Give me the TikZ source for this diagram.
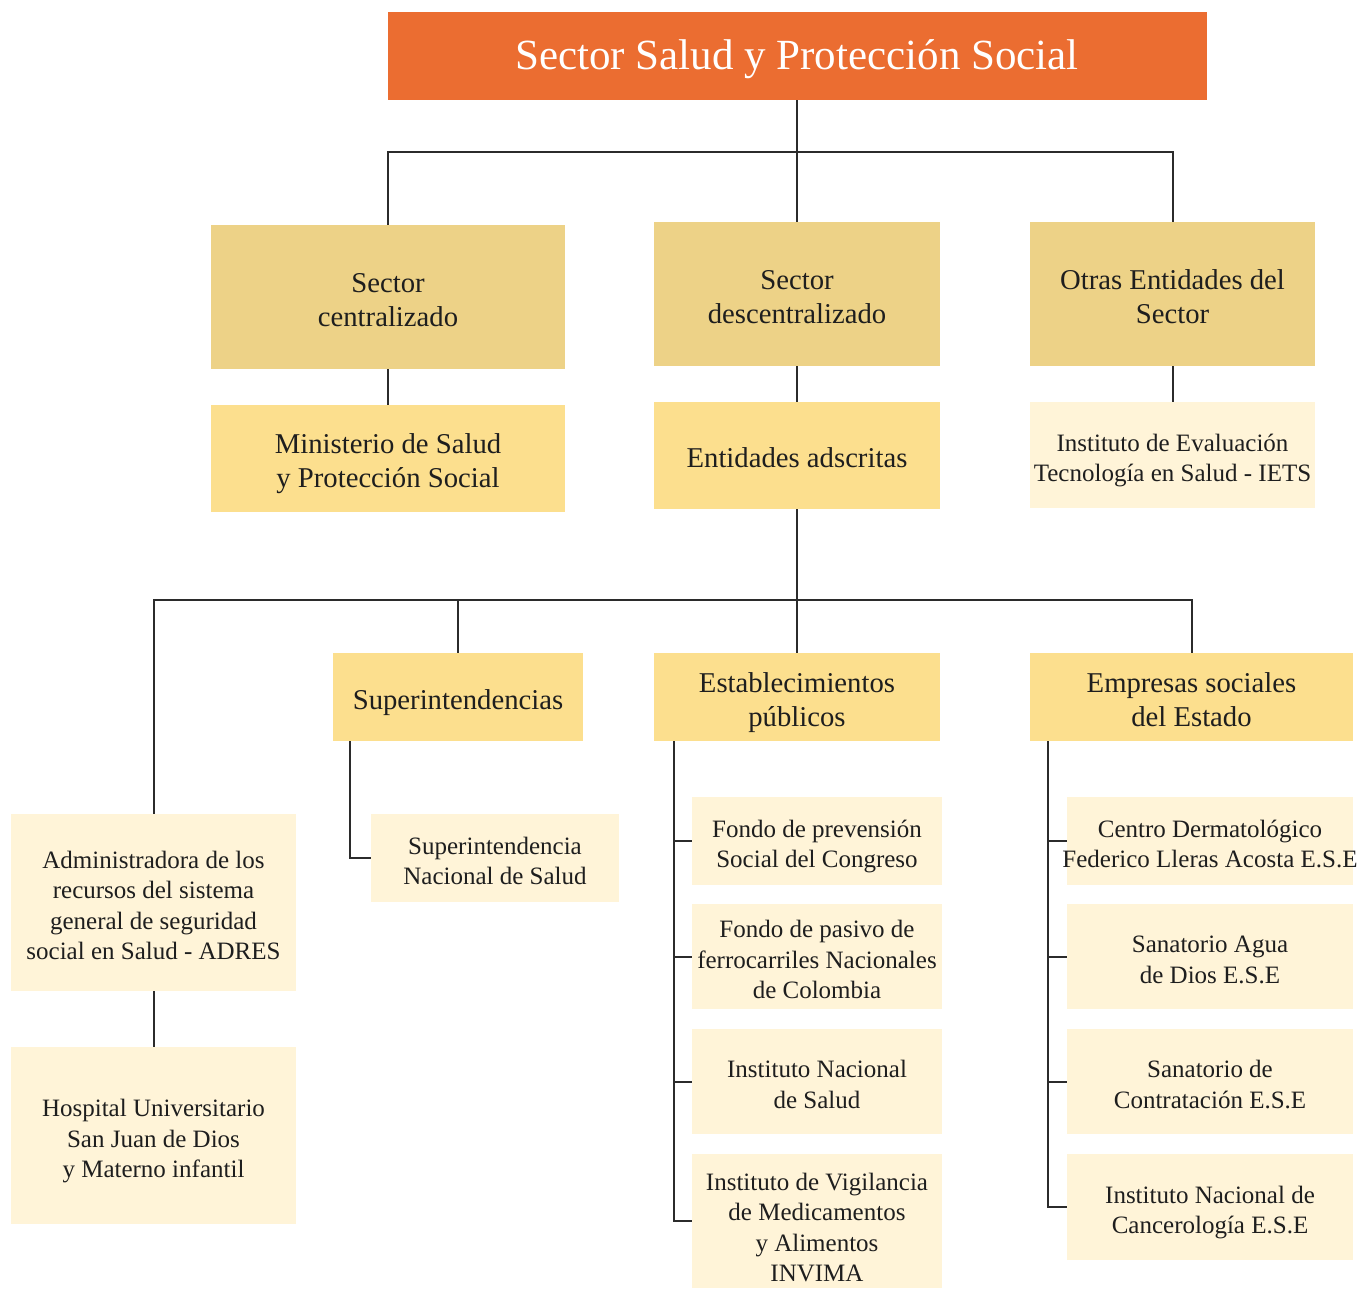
\documentclass[tikz,border=0pt]{standalone}
\usepackage{fontspec}
\setmainfont{Liberation Serif}
\definecolor{cTitle}{HTML}{EB6D31}
\definecolor{cDark}{HTML}{EDD287}
\definecolor{cMid}{HTML}{FCDF8E}
\definecolor{cLight}{HTML}{FFF4D8}
\definecolor{cLine}{HTML}{2B2B2B}
\definecolor{cText}{HTML}{1E1E1E}
\newcommand\boxtext[2][5.5pt]{\raisebox{-#1}[\height][\depth]{\begin{tabular}{@{}c@{}}#2\end{tabular}}}
\tikzset{
  box/.style={rectangle, inner sep=0pt, text=cText},
  titlebox/.style={box, fill=cTitle, text=white, font=\fontsize{43}{48}\selectfont},
  darkbox/.style={box, fill=cDark, font=\fontsize{28.7}{34}\selectfont},
  midbox/.style={box, fill=cMid, font=\fontsize{28.7}{34}\selectfont},
  lightbox/.style={box, fill=cLight, font=\fontsize{25}{30.5}\selectfont},
  conn/.style={draw=cLine, line width=2pt}
}
\begin{document}
\begin{tikzpicture}[x=1pt, y=-1pt]
\useasboundingbox (0,0) rectangle (1367,1290);
% title
\node[titlebox, minimum width=819pt, minimum height=88pt] (title) at (797,56) {\boxtext[4pt]{Sector Salud y Protección Social}};
% level 2
\node[darkbox, minimum width=354pt, minimum height=144pt] (c1) at (388,297) {\boxtext{Sector\\centralizado}};
\node[darkbox, minimum width=286pt, minimum height=144pt] (c2) at (797,294) {\boxtext{Sector\\descentralizado}};
\node[darkbox, minimum width=285pt, minimum height=144pt] (c3) at (1172.5,294) {\boxtext{Otras Entidades del\\Sector}};
% level 3
\node[midbox, minimum width=354pt, minimum height=107pt] (min) at (388,458.5) {\boxtext{Ministerio de Salud\\y Protección Social}};
\node[midbox, minimum width=286pt, minimum height=107pt] (ent) at (797,455.5) {\boxtext{Entidades adscritas}};
\node[lightbox, minimum width=285pt, minimum height=106pt] (iets) at (1172.5,455) {\boxtext{Instituto de Evaluación\\Tecnología en Salud - IETS}};
% level 4
\node[midbox, minimum width=250pt, minimum height=88pt] (sup) at (458,697) {\boxtext{Superintendencias}};
\node[midbox, minimum width=286pt, minimum height=88pt] (est) at (797,697) {\boxtext{Establecimientos\\públicos}};
\node[midbox, minimum width=323pt, minimum height=88pt] (emp) at (1191.5,697) {\boxtext{Empresas sociales\\del Estado}};
\node[lightbox, minimum width=285pt, minimum height=177pt] (adres) at (153.5,902.5) {\boxtext{Administradora de los\\recursos del sistema\\general de seguridad\\social en Salud - ADRES}};
\node[lightbox, minimum width=285pt, minimum height=177pt] (hosp) at (153.5,1135.5) {\boxtext{Hospital Universitario\\San Juan de Dios\\y Materno infantil}};
\node[lightbox, minimum width=248pt, minimum height=88pt] (snsal) at (495,858) {\boxtext{Superintendencia\\Nacional de Salud}};
% establecimientos children
\node[lightbox, minimum width=250pt, minimum height=88pt] (f1) at (817,841) {\boxtext{Fondo de prevensión\\Social del Congreso}};
\node[lightbox, minimum width=250pt, minimum height=105pt] (f2) at (817,956.5) {\boxtext{Fondo de pasivo de\\ferrocarriles Nacionales\\de Colombia}};
\node[lightbox, minimum width=250pt, minimum height=105pt] (f3) at (817,1081.5) {\boxtext{Instituto Nacional\\de Salud}};
\node[lightbox, minimum width=250pt, minimum height=134pt] (f4) at (817,1221) {\boxtext[9pt]{Instituto de Vigilancia\\de Medicamentos\\y Alimentos\\INVIMA}};
% empresas children
\node[lightbox, minimum width=286pt, minimum height=88pt] (e1) at (1210,841) {\boxtext{Centro Dermatológico\\\makebox[250pt]{Federico Lleras Acosta E.S.E}}};
\node[lightbox, minimum width=286pt, minimum height=105pt] (e2) at (1210,956.5) {\boxtext{Sanatorio Agua\\de Dios E.S.E}};
\node[lightbox, minimum width=286pt, minimum height=105pt] (e3) at (1210,1081.5) {\boxtext{Sanatorio de\\Contratación E.S.E}};
\node[lightbox, minimum width=286pt, minimum height=106pt] (e4) at (1210,1207) {\boxtext{Instituto Nacional de\\Cancerología E.S.E}};
% connectors: top
\coordinate (j1) at (797,152);
\draw[conn] (title.south) -- (j1);
\draw[conn] (c1.north) -- (c1.north |- j1) -- (c3.north |- j1) -- (c3.north);
\draw[conn] (j1) -- (c2.north);
\draw[conn] (c1.south) -- (min.north);
\draw[conn] (c2.south) -- (ent.north);
\draw[conn] (c3.south) -- (iets.north);
% connectors: second bus
\coordinate (j2) at (797,600);
\draw[conn] (ent.south) -- (j2);
\draw[conn] (adres.north) -- (adres.north |- j2) -- (emp.north |- j2) -- (emp.north);
\draw[conn] (sup.north |- j2) -- (sup.north);
\draw[conn] (j2) -- (est.north);
\draw[conn] (adres.south) -- (hosp.north);
% superintendencias
\coordinate (sb) at (350,741);
\draw[conn] (sb) |- (snsal.west);
% establecimientos bus
\coordinate (eb) at (674,741);
\draw[conn] (eb) |- (f4.west);
\draw[conn] (eb |- f1.west) -- (f1.west);
\draw[conn] (eb |- f2.west) -- (f2.west);
\draw[conn] (eb |- f3.west) -- (f3.west);
% empresas bus
\coordinate (mb) at (1048,741);
\draw[conn] (mb) |- (e4.west);
\draw[conn] (mb |- e1.west) -- (e1.west);
\draw[conn] (mb |- e2.west) -- (e2.west);
\draw[conn] (mb |- e3.west) -- (e3.west);
\end{tikzpicture}
\end{document}
